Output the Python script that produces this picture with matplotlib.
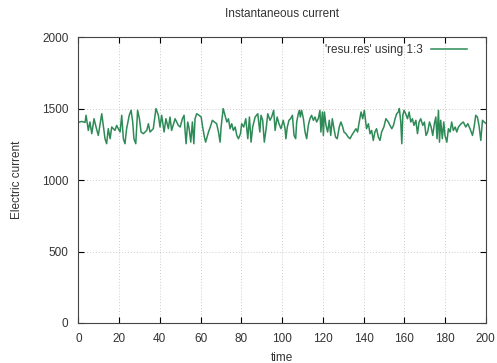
import matplotlib
matplotlib.use('Agg')
import matplotlib.pyplot as plt

# values (time, current)
times = [0.0, 1.6, 3.3, 3.8, 4.9, 5.7, 6.6, 7.7, 8.7, 9.8, 11.5, 13.1, 13.9, 14.7, 15.6,
         16.4, 18.0, 18.8, 20.5, 21.3, 22.1, 22.9, 23.7, 25.0, 25.9, 26.7, 27.3, 28.2,
         29.1, 30.0, 30.8, 31.9, 33.6, 34.4, 35.2, 36.8, 38.1, 39.3, 40.1, 40.9, 42.1,
         43.0, 44.2, 45.0, 45.8, 47.5, 49.1,
         50.0, 51.1, 51.9, 52.4, 52.9, 53.7, 54.4, 55.2, 56.0, 56.7, 57.3, 58.1, 59.3,
         60.3, 60.9, 61.9, 62.5, 63.9, 64.8, 65.8, 66.8, 67.9, 68.8, 69.6, 70.1, 71.1,
         72.0, 72.9, 73.7, 74.5, 75.3, 76.1, 77.0, 77.8, 78.6, 79.6, 80.2, 81.2, 82.2,
         83.2, 84.0, 84.8, 85.6, 86.8, 88.1, 89.1, 89.7, 90.5, 91.3, 92.2, 93.0, 94.1,
         94.9, 95.9, 96.6, 97.6, 98.5, 99.5,
         100.6, 101.5, 101.9, 102.6, 103.4, 104.2, 105.1, 105.9, 106.7, 107.2, 108.0,
         108.5, 109.0, 109.6, 110.5, 111.3, 112.1, 112.9, 113.7, 114.5, 115.4, 116.2,
         117.0, 117.8, 118.6, 119.1, 119.8, 120.3, 120.8, 121.6, 122.4, 123.2, 123.9,
         124.7, 125.5, 126.3, 127.1, 128.1, 128.9, 129.8, 130.4, 131.4, 132.5, 133.4,
         134.2, 135.3, 136.3, 137.1, 137.9, 138.8, 139.6, 140.4, 141.0, 141.5, 142.4,
         143.2, 144.0, 144.8, 145.6, 146.4, 147.3, 148.1, 148.9, 150.0, 151.0, 152.2,
         153.0,
         153.9, 154.7, 155.5, 156.3, 157.1, 157.6, 158.3, 158.8, 159.3, 159.9, 160.7,
         161.6, 162.4, 163.2, 164.0, 164.8, 165.7, 166.5, 167.3, 168.1, 169.1, 169.9,
         170.7, 171.5, 172.4, 173.2, 174.0, 174.8, 175.5, 176.1, 176.8, 177.3, 177.9,
         178.7, 179.4, 180.0, 180.9, 181.7, 182.5, 183.3, 184.1, 185.0, 185.8, 186.6,
         187.9, 189.0, 190.2, 191.2, 192.3, 193.5, 194.3, 195.1, 195.9, 196.7, 197.6,
         198.4, 199.2, 200.0]
current = [1405, 1412, 1405, 1455, 1349, 1408, 1326, 1431, 1373, 1314, 1466, 1291, 1256, 1361, 1291,
           1373, 1349, 1384, 1338, 1455, 1291, 1256, 1361, 1455, 1490, 1408, 1291, 1256,
           1490, 1431, 1338, 1326, 1349, 1396, 1338, 1361, 1502, 1455, 1373, 1455, 1338,
           1431, 1361, 1443, 1349, 1431, 1384,
           1373, 1431, 1455, 1349, 1256, 1408, 1361, 1267, 1408, 1256, 1431, 1466, 1455,
           1443, 1384, 1302, 1267, 1338, 1373, 1420, 1408, 1396, 1338, 1267, 1373, 1502,
           1455, 1408, 1431, 1361, 1396, 1349, 1373, 1314, 1291, 1326, 1396, 1373, 1431,
           1291, 1443, 1267, 1373, 1443, 1466, 1338, 1455, 1420, 1267, 1361, 1466, 1420,
           1443, 1490, 1349, 1443, 1396, 1361,
           1420, 1361, 1291, 1373, 1420, 1431, 1455, 1314, 1291, 1408, 1466,
           1490, 1443, 1490, 1431, 1338, 1291, 1384, 1431, 1455, 1420, 1443,
           1408, 1431, 1490, 1338, 1478, 1314, 1478, 1384, 1338, 1420, 1314,
           1431, 1361, 1302, 1291, 1373, 1408, 1373, 1338, 1326, 1302, 1291,
           1314, 1338, 1361, 1338, 1408, 1478, 1431, 1490, 1420, 1361, 1396,
           1326, 1349, 1279, 1338, 1361, 1302, 1279, 1338, 1373, 1431, 1408,
           1384,
           1361, 1384, 1431, 1466, 1478, 1502, 1408, 1256, 1455, 1490, 1466,
           1431, 1478, 1408, 1431, 1384, 1420, 1326, 1408, 1431, 1384, 1408,
           1314, 1338, 1408, 1373, 1314, 1396, 1443, 1291, 1490, 1267, 1420,
           1291, 1408, 1314, 1267, 1361, 1338, 1408, 1349, 1373, 1338, 1373,
           1396, 1408, 1373, 1396, 1361, 1314, 1373, 1455, 1443, 1384, 1279,
           1420, 1408, 1400]

plt.rcParams['font.family'] = ['Liberation Sans', 'DejaVu Sans']
txt = '#333333'

fig = plt.figure(figsize=(4.97, 3.63), dpi=100)
ax = fig.add_axes([0.1576, 0.1102, 0.8197, 0.7865])
ax.plot(times, current, color='#2e8b57', linewidth=1.1, label="'resu.res' using 1:3")

ax.set_xlim(0, 200)
ax.set_ylim(0, 2000)
ax.set_xticks(range(0, 201, 20))
ax.set_yticks(range(0, 2001, 500))
ax.grid(True, color='#bbbbbb', linestyle=(0, (1, 2.5)), linewidth=0.6)
ax.tick_params(direction='in', top=True, right=True, length=4, width=0.8,
               labelsize=8.5, labelcolor=txt, pad=7)
for s in ax.spines.values():
    s.set_color('#444444')
    s.set_linewidth(0.8)

ax.set_title('Instantaneous current', fontsize=8.5, color=txt, pad=14.5)
ax.set_xlabel('time', fontsize=8.5, color=txt, labelpad=5.5)
ax.set_ylabel('Electric current', fontsize=8.5, color=txt, labelpad=14)

leg = ax.legend(loc='upper right', frameon=False, fontsize=8.5, markerfirst=False,
                handlelength=3.0, borderaxespad=0, handletextpad=0.7,
                bbox_to_anchor=(0.965, 0.995))
for t in leg.get_texts():
    t.set_color(txt)

fig.savefig('out.png', dpi=100)
